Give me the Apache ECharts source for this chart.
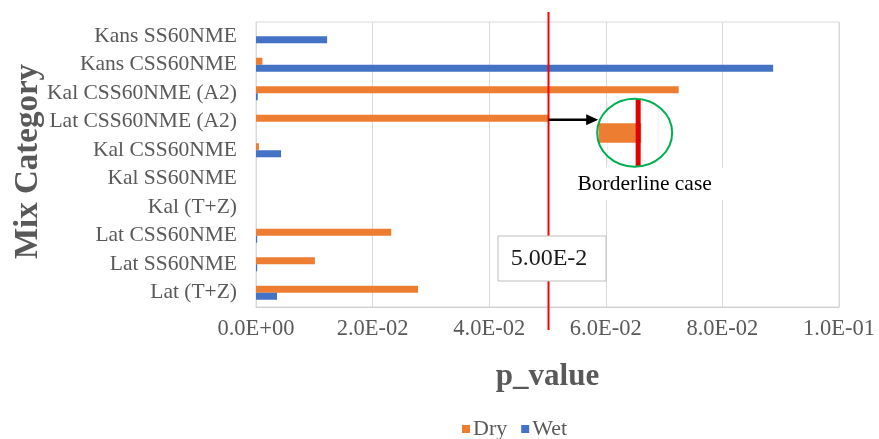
<!DOCTYPE html>
<html>
<head>
<meta charset="utf-8">
<script src="https://cdn.jsdelivr.net/npm/echarts@6/dist/echarts.min.js"></script>
<style>
  html, body { margin: 0; padding: 0; background: #ffffff; }
  #chart { width: 879px; height: 439px; }
</style>
</head>
<body>
<div id="chart"></div>
<script>
// Mix categories, listed bottom to top on the category axis
const categories = [
  'Lat (T+Z)', 'Lat SS60NME', 'Lat CSS60NME', 'Kal (T+Z)', 'Kal SS60NME',
  'Kal CSS60NME', 'Lat CSS60NME (A2)', 'Kal CSS60NME (A2)', 'Kans CSS60NME', 'Kans SS60NME'
];
// p-values per mix category
const dryValues = [0.0278, 0.0101, 0.0232, 0, 0, 0.0005, 0.0502, 0.0725, 0.0011, 0];
const wetValues = [0.0036, 0.0002, 0.0002, 0, 0, 0.0043, 0, 0.0003, 0.0887, 0.0122];
// value axis tick labels
const xTickLabels = ['0.0E+00', '2.0E-02', '4.0E-02', '6.0E-02', '8.0E-02', '1.0E-01'];
const xStep = 0.02;
// significance threshold and callout
const threshold = 0.05;
const thresholdLabel = '5.00E-2';
const borderlineCategory = 'Lat CSS60NME (A2)';
const borderlineText = 'Borderline case';

const SERIF = '"Liberation Serif", "Times New Roman", serif';
const DRY = '#ED7D31', WET = '#4472C4', GRIDC = '#D9D9D9', TXT = '#595959';
const BAR_W = 7;

const chart = echarts.init(document.getElementById('chart'), null, { renderer: 'canvas' });

const option = {
  animation: false,
  backgroundColor: '#ffffff',
  grid: {
    left: 256, right: 40, top: 22, bottom: 132,
    containLabel: false, outerBoundsMode: 'none',
    show: true, borderColor: GRIDC, borderWidth: 1
  },
  legend: {
    data: ['Dry', 'Wet'],
    left: 457, top: 413,
    itemWidth: 8, itemHeight: 8, itemGap: 14,
    icon: 'rect',
    textStyle: { fontFamily: SERIF, fontSize: 22, color: TXT, padding: [0, 0, 0, -2] }
  },
  xAxis: {
    type: 'value', min: 0, max: 0.1, interval: xStep,
    name: 'p_value', nameLocation: 'middle', nameGap: 54, nameMoveOverlap: false,
    nameTextStyle: { fontFamily: SERIF, fontSize: 31, fontWeight: 'bold', color: TXT },
    axisLine: { show: true, lineStyle: { color: '#D0D0D0' } },
    axisTick: { show: false },
    splitLine: { show: true, lineStyle: { color: GRIDC, width: 1 } },
    axisLabel: {
      fontFamily: SERIF, fontSize: 22.5, color: TXT, margin: 11, hideOverlap: false,
      formatter: v => xTickLabels[Math.round(v / xStep)]
    }
  },
  yAxis: {
    type: 'category', data: categories,
    name: 'Mix Category', nameLocation: 'middle', nameRotate: 90, nameGap: 211, nameMoveOverlap: false,
    nameTextStyle: { fontFamily: SERIF, fontSize: 33, fontWeight: 'bold', color: TXT, padding: [0, 0, 0, 6] },
    axisLine: { show: true, lineStyle: { color: GRIDC } },
    axisTick: { show: false },
    axisLabel: { fontFamily: SERIF, fontSize: 21.5, color: TXT, margin: 19, interval: 0, hideOverlap: false }
  },
  series: [
    { name: 'Dry', type: 'bar', data: dryValues, barWidth: BAR_W, barGap: '0%', itemStyle: { color: DRY } },
    { name: 'Wet', type: 'bar', data: wetValues, barWidth: BAR_W, barGap: '0%', itemStyle: { color: WET } }
  ]
};
chart.setOption(option);

// Threshold line, its label and the borderline callout, placed through the axes
function drawAnnotations() {
  const top = chart.convertToPixel({ yAxisIndex: 0 }, categories[categories.length - 1]);
  const bottom = chart.convertToPixel({ yAxisIndex: 0 }, categories[0]);
  const band = (bottom - top) / (categories.length - 1);
  const plotTop = top - band / 2, plotBottom = bottom + band / 2;
  const xT = chart.convertToPixel({ xAxisIndex: 0 }, threshold);

  const bi = categories.indexOf(borderlineCategory);
  const barEnd = chart.convertToPixel({ xAxisIndex: 0 }, dryValues[bi]);
  const catY = chart.convertToPixel({ yAxisIndex: 0 }, borderlineCategory);
  const arrowY = catY - BAR_W / 2 + 1.5;

  const cx = barEnd + 86, cy = arrowY + 13, rx = 37.5, ry = 34;
  const zoomLine = cx + 3.5;

  const elements = [
    // threshold line
    { type: 'line', z: 10, shape: { x1: xT + 1, y1: plotTop - 10, x2: xT + 1, y2: plotBottom + 23 },
      style: { stroke: '#FF0000', lineWidth: 2 } },
    // threshold label box
    { type: 'rect', z: 11, shape: { x: xT - 49.5, y: plotBottom - 71, width: 108, height: 45 },
      style: { fill: '#ffffff', stroke: '#BFBFBF', lineWidth: 1 } },
    { type: 'text', z: 12, x: xT + 1.5, y: plotBottom - 48.5,
      style: { text: thresholdLabel, font: '24px ' + SERIF, fill: '#1a1a1a', align: 'center', verticalAlign: 'middle' } },
    // arrow from the bar end to the magnified view
    { type: 'line', z: 11, shape: { x1: barEnd, y1: arrowY, x2: cx - rx - 8, y2: arrowY },
      style: { stroke: '#000000', lineWidth: 2.5 } },
    { type: 'polygon', z: 11,
      shape: { points: [[cx - rx + 1, arrowY], [cx - rx - 11, arrowY - 5.5], [cx - rx - 11, arrowY + 5.5]] },
      style: { fill: '#000000' } },
    // magnified view
    { type: 'ellipse', z: 11, shape: { cx: cx, cy: cy, rx: rx, ry: ry }, style: { fill: '#ffffff' } },
    { type: 'line', z: 12, shape: { x1: cx - 27, y1: cy - ry + 3, x2: cx - 27, y2: cy + ry - 3 },
      style: { stroke: '#EFEFEF', lineWidth: 1 } },
    { type: 'line', z: 12, shape: { x1: cx + 23.5, y1: cy - ry + 6, x2: cx + 23.5, y2: cy + ry - 6 },
      style: { stroke: '#EFEFEF', lineWidth: 1 } },
    { type: 'rect', z: 12, shape: { x: cx - rx + 1.5, y: cy - 9.5, width: zoomLine - (cx - rx + 1.5) + 3, height: 19.5 },
      style: { fill: DRY } },
    { type: 'line', z: 13, shape: { x1: zoomLine, y1: cy - ry + 0.5, x2: zoomLine, y2: cy + ry - 0.5 },
      style: { stroke: '#E00000', lineWidth: 5 } },
    { type: 'ellipse', z: 14, shape: { cx: cx, cy: cy, rx: rx, ry: ry },
      style: { fill: 'none', stroke: '#00B050', lineWidth: 2 } },
    // caption
    { type: 'rect', z: 11, shape: { x: cx - 63, y: cy + ry + 1, width: 153, height: 32 }, style: { fill: '#ffffff' } },
    { type: 'text', z: 12, x: cx + 10, y: cy + ry + 18,
      style: { text: borderlineText, font: '21.5px ' + SERIF, fill: '#000000', align: 'center', verticalAlign: 'middle' } }
  ];
  chart.setOption({ graphic: { elements: elements } });
}
drawAnnotations();
</script>
</body>
</html>
